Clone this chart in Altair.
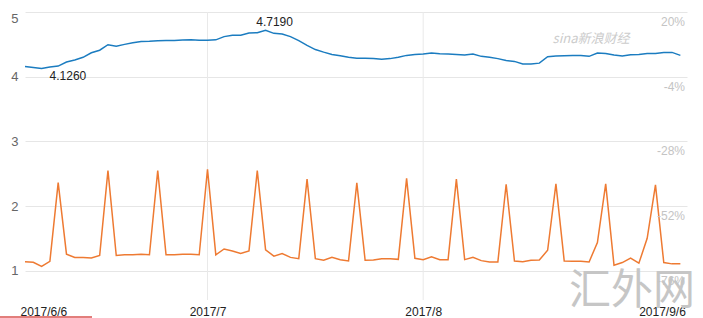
import altair as alt
import pandas as pd

# ---- data ----
blue = [4.160, 4.144, 4.126, 4.150, 4.165, 4.227, 4.260, 4.300, 4.370, 4.410,
        4.495, 4.470, 4.500, 4.525, 4.546, 4.550, 4.557, 4.560, 4.560, 4.567,
        4.570, 4.562, 4.562, 4.570, 4.620, 4.640, 4.640, 4.675, 4.680, 4.719,
        4.670, 4.660, 4.620, 4.557, 4.485, 4.420, 4.380, 4.345, 4.325, 4.300,
        4.285, 4.285, 4.280, 4.270, 4.280, 4.300, 4.330, 4.345, 4.350, 4.366,
        4.356, 4.350, 4.345, 4.335, 4.350, 4.315, 4.300, 4.280, 4.250, 4.237,
        4.196, 4.196, 4.210, 4.310, 4.320, 4.325, 4.330, 4.330, 4.315, 4.366,
        4.360, 4.335, 4.320, 4.340, 4.345, 4.360, 4.360, 4.376, 4.376, 4.330]

orange = [1.144, 1.134, 1.070, 1.150, 2.366, 1.260, 1.210, 1.210, 1.200, 1.240,
          2.550, 1.240, 1.250, 1.250, 1.260, 1.250, 2.550, 1.250, 1.250, 1.260,
          1.260, 1.250, 2.570, 1.250, 1.340, 1.310, 1.270, 1.310, 2.550, 1.325,
          1.230, 1.270, 1.210, 1.190, 2.420, 1.190, 1.165, 1.210, 1.175, 1.155,
          2.360, 1.165, 1.170, 1.190, 1.190, 1.180, 2.430, 1.196, 1.175, 1.220,
          1.175, 1.175, 2.420, 1.175, 1.210, 1.160, 1.140, 1.140, 2.340, 1.155,
          1.144, 1.165, 1.170, 1.320, 2.345, 1.155, 1.150, 1.150, 1.140, 1.440,
          2.345, 1.090, 1.130, 1.200, 1.120, 1.505, 2.330, 1.130, 1.110, 1.110]

x_tick_idx = [0, 22, 48, 79]
x_tick_labels = ["2017/6/6", "2017/7", "2017/8", "2017/9/6"]
vgrid_idx = [22, 48]
y_ticks = [1, 2, 3, 4, 5]
right_labels = ["-76%", "-52%", "-28%", "-4%", "20%"]
annot_idx = [2, 29]
annot_text = ["4.1260", "4.7190"]

# trading days (Sundays excluded)
dates = [d.strftime("%Y-%m-%d") for d in pd.date_range("2017-06-06", "2017-09-06") if d.dayofweek != 6]
n = len(dates)

df = pd.DataFrame({
    "i": list(range(n)) * 2,
    "date": dates * 2,
    "value": blue + orange,
    "series": ["A"] * n + ["B"] * n,
})
df_vgrid = pd.DataFrame({"i": vgrid_idx})
df_right = pd.DataFrame({"value": y_ticks, "label": right_labels})
df_ann = pd.DataFrame({"i": annot_idx, "value": [blue[k] for k in annot_idx], "label": annot_text})

FONT = "Liberation Sans"

x_scale = alt.Scale(domain=[0, 79.8], nice=False, zero=False)
y_scale = alt.Scale(domain=[0.552, 5], nice=False, zero=False)

label_expr = "".join(f"datum.value=={v}?'{l}':" for v, l in zip(x_tick_idx, x_tick_labels)) + "''"

x_axis = alt.Axis(values=x_tick_idx, labelExpr=label_expr, grid=False, ticks=False,
                  domain=False, labelFlush=8, labelFlushOffset=5, labelColor="#222",
                  labelFontSize=12, labelPadding=6, labelFont=FONT, title=None)
y_axis = alt.Axis(values=y_ticks, grid=True, gridColor="#e6e6e6", ticks=False,
                  domain=False, labelColor="#666", labelFontSize=13, labelPadding=7,
                  labelFlush=True, labelFont=FONT, title=None)

X = alt.X("i:Q", scale=x_scale, axis=x_axis, title=None)
Y = alt.Y("value:Q", scale=y_scale, axis=y_axis, title=None)

lines = alt.Chart(df).mark_line(strokeWidth=1.5).encode(
    x=X, y=Y,
    color=alt.Color("series:N", legend=None,
                    scale=alt.Scale(domain=["A", "B"], range=["#1b7cc0", "#ee7a32"])),
    detail="series:N",
)

vgrid = alt.Chart(df_vgrid).mark_rule(color="#e9e9e9", strokeWidth=1).encode(
    x=X, y=alt.value(0), y2=alt.value(288),
)

ann1 = alt.Chart(df_ann.iloc[[0]]).mark_text(align="left", baseline="middle", dx=8, dy=7,
                                              fontSize=12, color="#222", font=FONT).encode(
    x=X, y=Y, text="label:N",
)
ann2 = alt.Chart(df_ann.iloc[[1]]).mark_text(align="center", baseline="middle", dx=9, dy=-8,
                                              fontSize=12, color="#222", font=FONT).encode(
    x=X, y=Y, text="label:N",
)

right = alt.Chart(df_right).mark_text(align="right", baseline="middle", dy=10, fontSize=12,
                                      color="#c4c4c4", font=FONT).encode(
    x=alt.value(660), y=Y, text="label:N",
)

wm_sina = alt.Chart(pd.DataFrame({"t": ["sina新浪财经"]})).mark_text(
    align="center", baseline="middle", fontSize=13, fontStyle="italic", color="#cccccc",
    font="Noto Sans CJK SC").encode(x=alt.value(566), y=alt.value(27), text="t:N")

wm_hw = alt.Chart(pd.DataFrame({"t": ["汇外网"]})).mark_text(
    align="center", baseline="alphabetic", fontSize=42, color="#c6c6c6",
    font="Noto Sans CJK SC").encode(x=alt.value(607), y=alt.value(292), text="t:N")

underline = alt.Chart(pd.DataFrame({"a": [0]})).mark_rule(color="#d9534f", strokeWidth=1.5).encode(
    x=alt.value(-25), x2=alt.value(67), y=alt.value(305))

chart = alt.layer(vgrid, wm_hw, lines, ann1, ann2, right, wm_sina, underline).properties(
    width=662, height=288,
    autosize=alt.AutoSizeParams(type="none"),
    padding={"left": 25, "top": 12, "right": 16, "bottom": 18},
    background="white",
).configure(font=FONT).configure_view(stroke=None)

chart.save("out.html", embed_options={"renderer": "svg", "actions": False})
